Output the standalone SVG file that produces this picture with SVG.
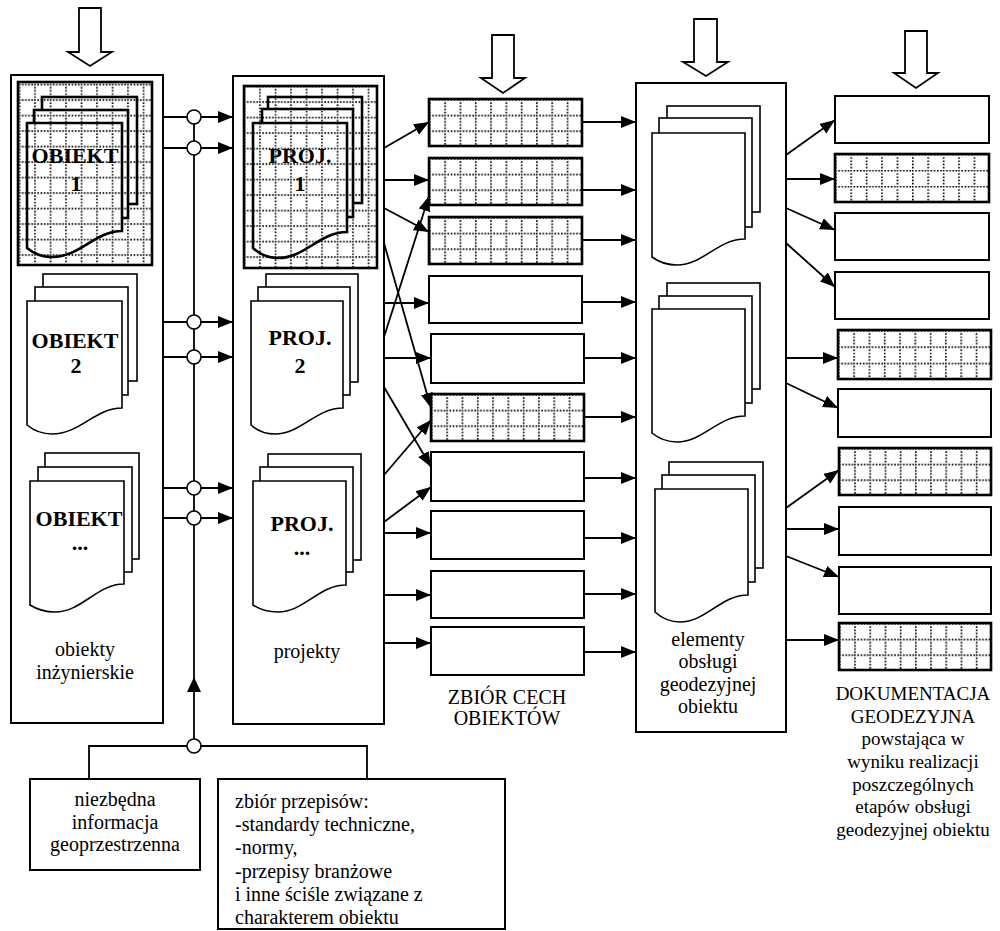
<svg xmlns="http://www.w3.org/2000/svg" width="1000" height="931" viewBox="0 0 1000 931">
<style>
.box{fill:#fff;stroke:#000;stroke-width:2}
.hb{stroke:#000;stroke-width:2.6}
.pg{fill:#fff;stroke:#000;stroke-width:1.6}
.hp{stroke:#000;stroke-width:2.6}
.dot{fill:none;stroke:#000;stroke-width:1.6;stroke-dasharray:1.6 1.6}
.ln{fill:none;stroke:#000;stroke-width:1.8}
.cn{fill:none;stroke:#000;stroke-width:1.8;marker-end:url(#ah)}
.cir{fill:#fff;stroke:#000;stroke-width:1.6}
.blk{fill:#fff;stroke:#000;stroke-width:1.8}
.big{font-family:"Liberation Serif",serif;font-weight:bold;font-size:22px;text-anchor:middle}
.lbl{font-family:"Liberation Serif",serif;font-size:20px;text-anchor:middle}
.lbl2{font-family:"Liberation Serif",serif;font-size:19px;text-anchor:middle}
.lft{font-family:"Liberation Serif",serif;font-size:20px}
</style>
<defs>
<marker id="ah" markerUnits="userSpaceOnUse" markerWidth="16" markerHeight="13" refX="15" refY="6" orient="auto">
<path d="M0,0 L15,6 L0,12 Z" fill="#000"/>
</marker>
<pattern id="g1" patternUnits="userSpaceOnUse" x="18.7" y="83.7" width="15.5" height="15.5">
<rect width="15.5" height="15.5" fill="#fff"/>
<path class="dot" d="M0.8,0 V15.5 M0,0.8 H15.5"/>
</pattern>
<pattern id="g2" patternUnits="userSpaceOnUse" x="243.7" y="85.7" width="15.5" height="15.5">
<rect width="15.5" height="15.5" fill="#fff"/>
<path class="dot" d="M0.8,0 V15.5 M0,0.8 H15.5"/>
</pattern>
<pattern id="gs" patternUnits="objectBoundingBox" width="0.1" height="0.33333">
<rect width="20" height="20" fill="#fff"/>
<path class="dot" d="M0.8,0 V20 M0,0.8 H20"/>
</pattern>
</defs>

<g id="input-arrows">
<polygon class="blk" points="79,8 101,8 101,52 112,52 90,66 68,52 79,52"/>
<polygon class="blk" points="492,35 514,35 514,78 525,78 503,93 481,78 492,78"/>
<polygon class="blk" points="694,19 717,19 717,62 728,62 706,76 683,62 694,62"/>
<polygon class="blk" points="905,31 927,31 927,73 938,73 916,88 894,73 905,73"/>
</g>

<g id="obiekty-inzynierskie">
<rect class="box" x="11" y="75" width="152" height="648"/>
<rect class="hb" fill="url(#g1)" x="18" y="82" width="134" height="183"/>
<rect class="hp" fill="url(#g1)" x="42" y="97" width="95" height="107"/>
<rect class="hp" fill="url(#g1)" x="34" y="110" width="94" height="108"/>
<path class="hp" fill="url(#g1)" d="M27,123 H122 V231 C95,231 80,257 52,257 Q38,257 27,248 Z"/>
<text class="big" x="75" y="163">OBIEKT</text>
<text class="big" x="76" y="191">1</text>
<rect class="pg" x="43" y="274" width="94" height="107"/>
<rect class="pg" x="35" y="287" width="93" height="108"/>
<path class="pg" d="M27,301 H122 V408 C95,408 80,434 52,434 Q38,434 27,425 Z"/>
<text class="big" x="75" y="348">OBIEKT</text>
<text class="big" x="76" y="373">2</text>
<rect class="pg" x="45" y="453" width="94" height="106"/>
<rect class="pg" x="38" y="467" width="94" height="105"/>
<path class="pg" d="M30,481 H124 V584 C97,584 82,612 55,612 Q41,612 30,605 Z"/>
<text class="big" x="79" y="526">OBIEKT</text>
<text class="big" x="80" y="550">...</text>
<text class="lbl" x="85" y="656">obiekty</text>
<text class="lbl" x="85" y="679">inżynierskie</text>
</g>

<g id="projekty">
<rect class="box" x="233" y="76" width="151" height="648"/>
<rect class="hb" fill="url(#g2)" x="244" y="86" width="133" height="182"/>
<rect class="hp" fill="url(#g2)" x="268" y="97" width="94" height="106"/>
<rect class="hp" fill="url(#g2)" x="262" y="109" width="91" height="108"/>
<path class="hp" fill="url(#g2)" d="M253,123 H347 V232 C320,232 305,258 278,258 Q264,258 253,248 Z"/>
<text class="big" x="300" y="163">PROJ.</text>
<text class="big" x="300" y="191">1</text>
<rect class="pg" x="266" y="274" width="92" height="108"/>
<rect class="pg" x="258" y="287" width="92" height="108"/>
<path class="pg" d="M251,301 H343 V408 C316,408 301,434 275,434 Q261,434 251,425 Z"/>
<text class="big" x="300" y="345">PROJ.</text>
<text class="big" x="300" y="373">2</text>
<rect class="pg" x="268" y="454" width="93" height="106"/>
<rect class="pg" x="260" y="467" width="93" height="105"/>
<path class="pg" d="M253,481 H346 V585 C319,585 304,612 278,612 Q264,612 253,605 Z"/>
<text class="big" x="302" y="531">PROJ.</text>
<text class="big" x="302" y="555">...</text>
<text class="lbl" x="307" y="658">projekty</text>
</g>

<g id="zbior-cech">
<rect class="hb" fill="url(#gs)" x="429" y="99" width="153" height="47"/>
<rect class="hb" fill="url(#gs)" x="429" y="158" width="153" height="47"/>
<rect class="hb" fill="url(#gs)" x="429" y="217" width="153" height="47"/>
<rect class="box" x="429" y="276" width="153" height="47"/>
<rect class="box" x="431" y="334" width="153" height="49"/>
<rect class="hb" fill="url(#gs)" x="431" y="394" width="153" height="47"/>
<rect class="box" x="431" y="452" width="153" height="49"/>
<rect class="box" x="431" y="511" width="153" height="48"/>
<rect class="box" x="431" y="571" width="153" height="47"/>
<rect class="box" x="431" y="627" width="153" height="48"/>
<text class="lbl" x="507" y="704">ZBIÓR CECH</text>
<text class="lbl" x="507" y="725">OBIEKTÓW</text>
</g>

<g id="elementy-obslugi">
<rect class="box" x="636" y="83" width="150" height="649"/>
<rect class="pg" x="667" y="106" width="93" height="106"/>
<rect class="pg" x="659" y="118" width="93" height="109"/>
<path class="pg" d="M652,133 H745 V239 C718,239 703,265 677,265 Q663,265 652,257 Z"/>
<rect class="pg" x="667" y="283" width="93" height="106"/>
<rect class="pg" x="659" y="296" width="93" height="107"/>
<path class="pg" d="M652,309 H745 V416 C718,416 703,442 677,442 Q663,442 652,433 Z"/>
<rect class="pg" x="669" y="462" width="94" height="106"/>
<rect class="pg" x="662" y="475" width="93" height="107"/>
<path class="pg" d="M655,489 H748 V595 C721,595 706,622 680,622 Q666,622 655,612 Z"/>
<text class="lbl" x="708" y="646">elementy</text>
<text class="lbl" x="708" y="668">obsługi</text>
<text class="lbl" x="708" y="691">geodezyjnej</text>
<text class="lbl" x="708" y="713">obiektu</text>
</g>

<g id="dokumentacja">
<rect class="box" x="835" y="96" width="154" height="47"/>
<rect class="hb" fill="url(#gs)" x="835" y="154" width="154" height="48"/>
<rect class="box" x="835" y="213" width="154" height="47"/>
<rect class="box" x="835" y="272" width="154" height="47"/>
<rect class="hb" fill="url(#gs)" x="838" y="330" width="153" height="49"/>
<rect class="box" x="838" y="389" width="153" height="48"/>
<rect class="hb" fill="url(#gs)" x="839" y="448" width="152" height="47"/>
<rect class="box" x="839" y="507" width="152" height="48"/>
<rect class="box" x="839" y="567" width="152" height="47"/>
<rect class="hb" fill="url(#gs)" x="839" y="623" width="152" height="47"/>
<text class="lbl2" x="913" y="700">DOKUMENTACJA</text>
<text class="lbl2" x="913" y="723">GEODEZYJNA</text>
<text class="lbl2" x="913" y="745">powstająca w</text>
<text class="lbl2" x="913" y="768">wyniku realizacji</text>
<text class="lbl2" x="913" y="791">poszczególnych</text>
<text class="lbl2" x="913" y="813">etapów obsługi</text>
<text class="lbl2" x="913" y="836">geodezyjnej  obiektu</text>
</g>

<g id="informacja">
<rect class="box" x="30" y="779" width="170" height="91"/>
<text class="lbl" x="115" y="806">niezbędna</text>
<text class="lbl" x="115" y="829">informacja</text>
<text class="lbl" x="115" y="851">geoprzestrzenna</text>
</g>

<g id="przepisy">
<rect class="box" x="218" y="779" width="287" height="150"/>
<text class="lft" x="235" y="808">zbiór przepisów:</text>
<text class="lft" x="235" y="831">-standardy techniczne,</text>
<text class="lft" x="235" y="854">-normy,</text>
<text class="lft" x="235" y="878">-przepisy branżowe</text>
<text class="lft" x="235" y="901">i inne ściśle związane z</text>
<text class="lft" x="235" y="924">charakterem obiektu</text>
</g>

<g id="connectors">
<path class="ln" d="M194,117 V746"/>
<polygon points="194,677 201,692 187,692" fill="#000"/>
<path class="ln" d="M89,779 V746 H367 V779"/>
<path class="cn" d="M163,117 H233"/>
<path class="cn" d="M163,148 H233"/>
<path class="cn" d="M163,322 H233"/>
<path class="cn" d="M163,357 H233"/>
<path class="cn" d="M163,488 H233"/>
<path class="cn" d="M163,518 H233"/>
<circle class="cir" cx="194" cy="117" r="7"/>
<circle class="cir" cx="194" cy="148" r="7"/>
<circle class="cir" cx="194" cy="322" r="7"/>
<circle class="cir" cx="194" cy="357" r="7"/>
<circle class="cir" cx="194" cy="488" r="7"/>
<circle class="cir" cx="194" cy="518" r="7"/>
<circle class="cir" cx="194" cy="746" r="7"/>

<path class="cn" d="M384,148 L429,122"/>
<path class="cn" d="M384,180 H429"/>
<path class="cn" d="M384,337 L429,196"/>
<path class="cn" d="M384,208 L429,232"/>
<path class="cn" d="M384,303 H429"/>
<path class="cn" d="M384,358 H431"/>
<path class="cn" d="M384,243 L431,408"/>
<path class="cn" d="M384,475 L431,420"/>
<path class="cn" d="M384,387 L431,467"/>
<path class="cn" d="M384,522 L431,487"/>
<path class="cn" d="M384,533 H431"/>
<path class="cn" d="M384,595 H431"/>
<path class="cn" d="M384,643 H431"/>

<path class="cn" d="M582,122 H636"/>
<path class="cn" d="M582,190 H636"/>
<path class="cn" d="M582,240 H636"/>
<path class="cn" d="M582,302 H636"/>
<path class="cn" d="M584,358 H636"/>
<path class="cn" d="M584,417 H636"/>
<path class="cn" d="M584,478 H636"/>
<path class="cn" d="M584,538 H636"/>
<path class="cn" d="M584,594 H636"/>
<path class="cn" d="M584,652 H636"/>

<path class="cn" d="M786,155 L835,120"/>
<path class="cn" d="M786,179 H835"/>
<path class="cn" d="M786,208 L835,230"/>
<path class="cn" d="M786,243 L835,287"/>
<path class="cn" d="M786,358 H838"/>
<path class="cn" d="M786,383 L838,408"/>
<path class="cn" d="M786,508 L839,470"/>
<path class="cn" d="M786,529 H839"/>
<path class="cn" d="M786,556 L839,577"/>
<path class="cn" d="M786,640 H839"/>
</g>
</svg>
